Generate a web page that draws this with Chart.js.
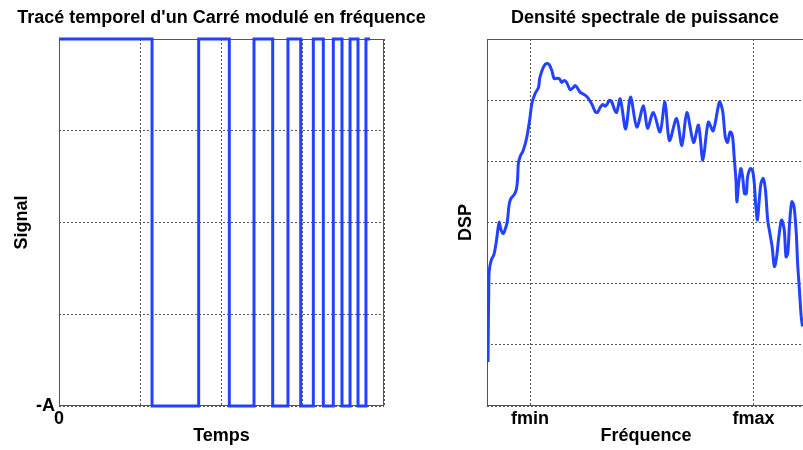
<!DOCTYPE html>
<html>
<head>
<meta charset="utf-8">
<script src="https://cdn.jsdelivr.net/npm/chart.js@4.4.1/dist/chart.umd.min.js"></script>
<style>
  html, body { margin: 0; padding: 0; background: #fff; overflow: hidden; }
  #wrap { position: relative; width: 803px; height: 450px; overflow: hidden; }
  #signalChart { position: absolute; left: 0; top: 0; }
  #dspChart { position: absolute; left: 443px; top: 0; }
</style>
</head>
<body>
<div id="wrap">
  <canvas id="signalChart" width="443" height="450"></canvas>
  <canvas id="dspChart" width="404" height="450"></canvas>
</div>
<script>
// signal carré : instants de commutation et niveau pris à chaque instant
const switchTimes = [0, 1.145, 1.719, 2.096, 2.4, 2.63, 2.818, 2.975, 3.13, 3.253, 3.376, 3.483, 3.582, 3.68, 3.778, 3.828];
const levels = [1, -1, 1, -1, 1, -1, 1, -1, 1, -1, 1, -1, 1, -1, 1, 1];

// DSP (fréquence en unités où fmin = 1, fmax = 6)
const freq = [
  0.06, 0.08, 0.1, 0.14, 0.19, 0.24, 0.28, 0.31, 0.35, 0.4, 0.44, 0.49, 0.53, 0.57, 0.64, 0.69, 0.72, 0.74,
  0.78, 0.85, 0.93, 1.0, 1.04, 1.11, 1.19, 1.22, 1.3, 1.37, 1.43, 1.49, 1.54, 1.6, 1.66, 1.71, 1.77, 1.82,
  1.9, 1.96, 2.01, 2.06, 2.12, 2.19, 2.27, 2.34, 2.4, 2.46, 2.51, 2.57, 2.63, 2.68, 2.73, 2.78, 2.83, 2.9,
  2.94, 3.02, 3.14, 3.25, 3.39, 3.54, 3.63, 3.76, 3.91, 4.02, 4.12, 4.28, 4.4, 4.51, 4.66, 4.77, 4.87, 4.99,
  5.1, 5.24, 5.31, 5.37, 5.42, 5.48, 5.53, 5.57, 5.61, 5.63, 5.67, 5.72, 5.76, 5.8, 5.84, 5.87, 5.93, 5.98,
  6.02, 6.05, 6.09, 6.13, 6.17, 6.22, 6.27, 6.32, 6.37, 6.42, 6.47, 6.52, 6.57, 6.63, 6.69, 6.73, 6.77, 6.81,
  6.86, 6.91, 6.96, 6.99, 7.03, 7.07, 7.1,
];
const dsp = [
  0.72, 2.12, 2.28, 2.4, 2.47, 2.66, 2.88, 3.01, 2.88, 2.82, 2.88, 3.01, 3.28, 3.39, 3.45, 3.53, 3.69, 3.97,
  4.08, 4.18, 4.4, 4.72, 4.94, 5.1, 5.21, 5.37, 5.54, 5.6, 5.58, 5.48, 5.35, 5.36, 5.35, 5.29, 5.32, 5.29,
  5.17, 5.2, 5.24, 5.2, 5.13, 5.1, 5.06, 4.99, 4.91, 4.81, 4.8, 4.88, 4.93, 4.9, 4.94, 5.0, 4.97, 4.83,
  4.8, 5.02, 4.53, 5.05, 4.56, 4.91, 4.54, 4.8, 4.48, 4.97, 4.34, 4.7, 4.26, 4.8, 4.31, 4.59, 4.02, 4.64,
  4.5, 4.97, 4.83, 4.4, 4.31, 4.48, 4.42, 4.07, 3.69, 3.34, 3.64, 3.88, 3.74, 3.47, 3.47, 3.74, 3.88, 3.85,
  3.64, 3.31, 3.04, 3.36, 3.64, 3.72, 3.53, 3.04, 2.82, 2.6, 2.28, 2.44, 2.77, 3.04, 2.88, 2.44, 2.5, 2.99,
  3.34, 3.26, 2.82, 2.33, 1.9, 1.46, 1.3,
];
const freqTicks = [1, 6];
const freqLabels = ["fmin", "fmax"];

const BLUE = "#2342ff";
const GRID = "#555";

Chart.defaults.font.family = "'Liberation Sans', Arial, sans-serif";
Chart.defaults.font.size = 18;
Chart.defaults.font.weight = "bold";
Chart.defaults.color = "#000";

// cadre autour de la zone de tracé
const boxPlugin = {
  id: "box",
  beforeDatasetsDraw(chart) {
    const { ctx, chartArea: a } = chart;
    ctx.save();
    ctx.strokeStyle = GRID;
    ctx.lineWidth = 1;
    ctx.strokeRect(a.left + 0.5, a.top + 0.5, a.right - a.left - 1, a.bottom - a.top - 1);
    ctx.restore();
  },
};

const dottedGrid = { color: GRID, lineWidth: 1, drawTicks: false };
const dottedBorder = { display: false, dash: [2, 2] };

// axe vide à droite, sert seulement à réserver la marge
const spacer = (w) => ({
  position: "right",
  display: true,
  grid: { display: false, drawTicks: false },
  border: { display: false },
  ticks: { display: false },
  afterFit: (s) => { s.width = w; },
});

// tracé temporel
const signalChart = new Chart("signalChart", {
  type: "line",
  data: {
    datasets: [
      {
        data: switchTimes.map((t, i) => ({ x: t, y: levels[i] })),
        borderColor: BLUE,
        borderWidth: 3,
        stepped: "before",
        pointRadius: 0,
        clip: false,
      },
    ],
  },
  options: {
    responsive: false,
    animation: false,
    layout: { padding: 0 },
    plugins: {
      legend: { display: false },
      tooltip: { enabled: false },
      title: {
        display: true,
        text: "Tracé temporel d'un Carré modulé en fréquence",
        padding: { top: 7, bottom: 10.4 },
      },
    },
    scales: {
      x: {
        type: "linear",
        min: 0,
        max: 4,
        ticks: {
          stepSize: 1,
          padding: 2,
          maxRotation: 0,
          callback: (v) => (v === 0 ? "0" : ""),
        },
        grid: dottedGrid,
        border: dottedBorder,
        title: { display: true, text: "Temps", padding: { top: 0, bottom: 3 } },
        afterFit: (s) => { s.height = 44; },
      },
      y: {
        min: -1,
        max: 1,
        ticks: {
          stepSize: 0.5,
          padding: 4,
          callback: (v) => (v === -1 ? "-A" : ""),
        },
        grid: dottedGrid,
        border: dottedBorder,
        title: { display: true, text: "Signal", padding: { top: 11, bottom: 0 } },
        afterFit: (s) => { s.width = 59; },
      },
      pad: spacer(59),
    },
  },
  plugins: [boxPlugin],
});

// densité spectrale de puissance
const dspChart = new Chart("dspChart", {
  type: "line",
  data: {
    datasets: [
      {
        data: freq.map((f, i) => ({ x: f, y: dsp[i] })),
        borderColor: BLUE,
        borderWidth: 3,
        tension: 0.3,
        pointRadius: 0,
      },
    ],
  },
  options: {
    responsive: false,
    animation: false,
    layout: { padding: 0 },
    plugins: {
      legend: { display: false },
      tooltip: { enabled: false },
      title: {
        display: true,
        text: "Densité spectrale de puissance",
        padding: { top: 7, bottom: 10.4 },
      },
    },
    scales: {
      x: {
        type: "linear",
        min: 0.037,
        max: 7.155,
        afterBuildTicks: (s) => { s.ticks = freqTicks.map((v) => ({ value: v })); },
        ticks: {
          padding: 2,
          maxRotation: 0,
          autoSkip: false,
          callback: (v) => freqLabels[freqTicks.indexOf(v)],
        },
        grid: dottedGrid,
        border: dottedBorder,
        title: { display: true, text: "Fréquence", padding: { top: 0, bottom: 3 } },
        afterFit: (s) => { s.height = 44; },
      },
      y: {
        min: 0,
        max: 6,
        ticks: { stepSize: 1, display: false },
        grid: dottedGrid,
        border: dottedBorder,
        title: { display: true, text: "DSP", padding: { top: 12, bottom: 0 } },
        afterFit: (s) => { s.width = 44; },
      },
      pad: spacer(42),
    },
  },
  plugins: [boxPlugin],
});
</script>
</body>
</html>
